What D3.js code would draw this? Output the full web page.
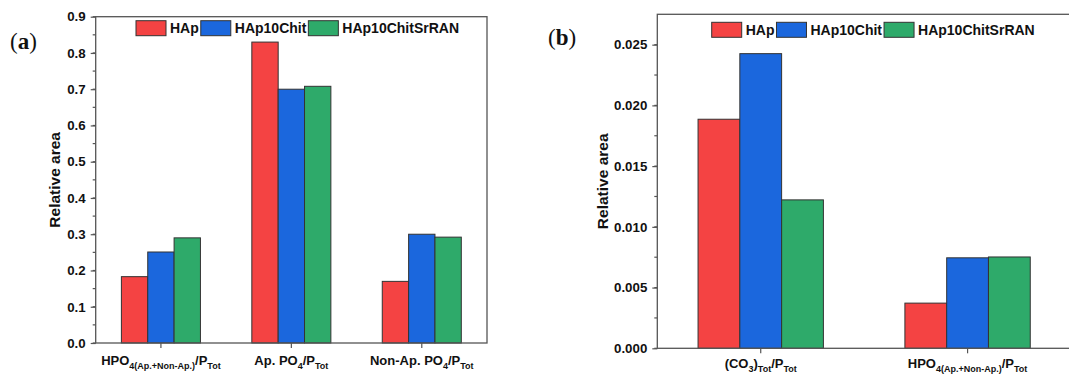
<!DOCTYPE html>
<html>
<head>
<meta charset="utf-8">
<script src="https://cdn.jsdelivr.net/npm/d3@7"></script>
<style>
  body { margin: 0; background: #fff; }
  svg { font-family: "Liberation Sans", Arial, sans-serif; }
</style>
</head>
<body>
<script>
// series names and colours
var series = ["HAp", "HAp10Chit", "HAp10ChitSrRAN"];
var colors = ["#f44343", "#1b67dd", "#2eaa6a"];

// panel (a) data, label segments: [text, isSubscript]
var catsA = [
  [["HPO", 0], ["4(Ap.+Non-Ap.)", 1], ["/P", 0], ["Tot", 1]],
  [["Ap. PO", 0], ["4", 1], ["/P", 0], ["Tot", 1]],
  [["Non-Ap. PO", 0], ["4", 1], ["/P", 0], ["Tot", 1]]
];
var hapA = [0.183, 0.830, 0.170];
var chitA = [0.251, 0.700, 0.300];
var srranA = [0.290, 0.708, 0.292];
var ticksA = [0, 0.1, 0.2, 0.3, 0.4, 0.5, 0.6, 0.7, 0.8, 0.9];

// panel (b) data
var catsB = [
  [["(CO", 0], ["3", 1], [")", 0], ["Tot", 1], ["/P", 0], ["Tot", 1]],
  [["HPO", 0], ["4(Ap.+Non-Ap.)", 1], ["/P", 0], ["Tot", 1]]
];
var hapB = [0.01886, 0.00372];
var chitB = [0.02426, 0.00745];
var srranB = [0.01222, 0.00752];
var ticksB = [0, 0.005, 0.010, 0.015, 0.020, 0.025];

var svg = d3.select("body").append("svg")
    .attr("width", 1069)
    .attr("height", 374);

function drawPanel(opt){
    var g = svg.append("g");
    var idx = d3.range(opt.cats.length);

    var x = d3.scaleBand().domain(idx)
        .range([opt.left, opt.right])
        .paddingInner(0.394).paddingOuter(0.197);
    var xs = d3.scaleBand().domain(d3.range(series.length))
        .range([0, x.bandwidth()]);
    var y = d3.scaleLinear().domain(opt.domain)
        .range([opt.bottom, opt.top]);

    //bars
    var vals = [opt.s0, opt.s1, opt.s2];
    vals.forEach(function(v, si){
        g.selectAll(".bar" + si)
            .data(v)
            .enter()
            .append("rect")
            .attr("x", function(d, i){ return x(i) + xs(si); })
            .attr("y", function(d){ return y(d); })
            .attr("width", xs.bandwidth())
            .attr("height", function(d){ return y(0) - y(d); })
            .attr("fill", colors[si])
            .attr("stroke", "#333")
            .attr("stroke-width", 1);
    });

    var axisCol = "#555";

    //minor ticks
    var minor = d3.range(opt.domain[0], opt.ticks[opt.ticks.length - 1] + opt.minorStep / 2, opt.minorStep);
    g.selectAll(".minor").data(minor).enter().append("line")
        .attr("x1", opt.left - 3).attr("x2", opt.left)
        .attr("y1", function(d){ return y(d); })
        .attr("y2", function(d){ return y(d); })
        .attr("stroke", axisCol).attr("stroke-width", 1.2);

    //y axis
    var yAxis = d3.axisLeft(y).tickValues(opt.ticks)
        .tickFormat(d3.format(opt.fmt)).tickSize(5).tickPadding(5);
    var ya = g.append("g").attr("transform", "translate(" + opt.left + ",0)").call(yAxis);
    ya.select(".domain").remove();
    ya.selectAll("line").attr("stroke", axisCol).attr("stroke-width", 1.2);
    ya.selectAll("text").attr("fill", "#111")
        .style("font-size", "13.3px").style("font-weight", "bold");

    //frame
    g.append("rect")
        .attr("x", opt.left).attr("y", opt.top)
        .attr("width", opt.right - opt.left).attr("height", opt.bottom - opt.top)
        .attr("fill", "none").attr("stroke", axisCol).attr("stroke-width", 1.3);

    //x ticks
    g.selectAll(".xt").data(idx).enter().append("line")
        .attr("x1", function(d){ return x(d) + x.bandwidth() / 2; })
        .attr("x2", function(d){ return x(d) + x.bandwidth() / 2; })
        .attr("y1", opt.bottom).attr("y2", opt.bottom + 5)
        .attr("stroke", axisCol).attr("stroke-width", 1.2);

    //x labels with subscripts
    opt.cats.forEach(function(segs, i){
        var t = g.append("text")
            .attr("x", x(i) + x.bandwidth() / 2)
            .attr("y", opt.labelY)
            .attr("text-anchor", "middle")
            .attr("font-weight", "bold")
            .attr("fill", "#111");
        var sub = false;
        segs.forEach(function(s){
            var ts = t.append("tspan").text(s[0])
                .style("font-size", s[1] ? "9px" : "13px");
            if (s[1] && !sub) ts.attr("dy", 3.5);
            if (!s[1] && sub) ts.attr("dy", -3.5);
            sub = !!s[1];
        });
    });

    //y label
    g.append("text")
        .attr("transform", "translate(" + opt.ylabX + "," + ((opt.top + opt.bottom) / 2) + ") rotate(-90)")
        .attr("text-anchor", "middle")
        .attr("dy", "0.35em")
        .attr("font-weight", "bold")
        .style("font-size", "15.5px")
        .attr("fill", "#111")
        .text("Relative area");

    //legend
    var lx = opt.legX;
    series.forEach(function(s, si){
        g.append("rect")
            .attr("x", lx).attr("y", opt.legY)
            .attr("width", 30).attr("height", 15)
            .attr("fill", colors[si]).attr("stroke", "#333").attr("stroke-width", 1);
        var t = g.append("text")
            .attr("x", lx + 34).attr("y", opt.legY + 12.5)
            .attr("font-weight", "bold")
            .style("font-size", "14px")
            .attr("fill", "#111")
            .text(s);
        lx = lx + 34 + t.node().getComputedTextLength() + 2;
    });

    //panel letter
    var pl = g.append("text")
        .attr("x", opt.letterX).attr("y", opt.letterY)
        .style("font-family", "'Liberation Serif', 'DejaVu Serif', serif")
        .style("font-size", "23px")
        .attr("fill", "#111");
    pl.append("tspan").text("(");
    pl.append("tspan").attr("font-weight", "bold").text(opt.letter);
    pl.append("tspan").text(")");
}

drawPanel({
    cats: catsA, s0: hapA, s1: chitA, s2: srranA, ticks: ticksA,
    domain: [0, 0.9], minorStep: 0.05, fmt: ".1f",
    left: 95.7, right: 487, top: 16.7, bottom: 343,
    labelY: 365, ylabX: 55, legX: 136, legY: 20.7,
    letter: "a", letterX: 10, letterY: 49
});

drawPanel({
    cats: catsB, s0: hapB, s1: chitB, s2: srranB, ticks: ticksB,
    domain: [0, 0.0275], minorStep: 0.0025, fmt: ".3f",
    left: 657.3, right: 1071, top: 14.3, bottom: 348.3,
    labelY: 368, ylabX: 603, legX: 711.7, legY: 22.3,
    letter: "b", letterX: 548, letterY: 45
});
</script>
</body>
</html>
